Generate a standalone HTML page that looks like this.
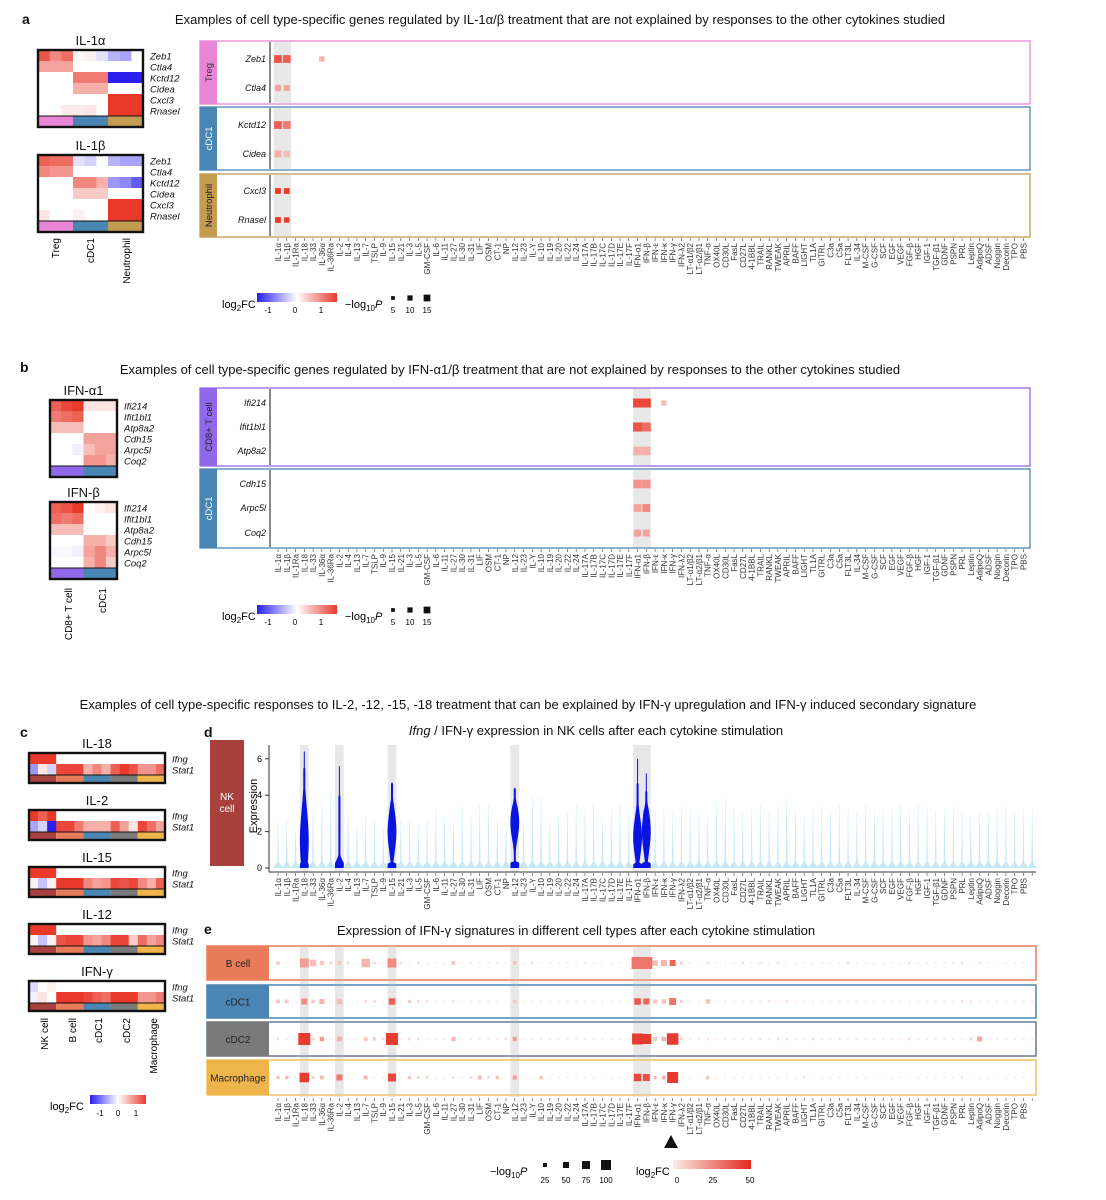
<!DOCTYPE html>
<html><head><meta charset="utf-8">
<style>
body{margin:0;background:#fff;}
svg{display:block;font-family:"Liberation Sans",Arial,sans-serif;}
</style></head>
<body>
<svg id="fig" width="1106" height="1200" viewBox="0 0 1106 1200" xmlns="http://www.w3.org/2000/svg">
<defs>
<linearGradient id="gdiv" x1="0" x2="1" y1="0" y2="0">
<stop offset="0" stop-color="#2a1ff0"/><stop offset="0.5" stop-color="#ffffff"/><stop offset="1" stop-color="#e8392b"/>
</linearGradient>
<linearGradient id="gred" x1="0" x2="1" y1="0" y2="0">
<stop offset="0" stop-color="#fbece7"/><stop offset="1" stop-color="#e4281c"/>
</linearGradient>
</defs>
<g font-size="13" fill="#111">
<text x="22" y="24" font-weight="bold" font-size="14">a</text>
<text x="560" y="24" text-anchor="middle">Examples of cell type-specific genes regulated by IL-1α/β treatment that are not explained by responses to the other cytokines studied</text>
<text x="20" y="372" font-weight="bold" font-size="14">b</text>
<text x="510" y="374" text-anchor="middle">Examples of cell type-specific genes regulated by IFN-α1/β treatment that are not explained by responses to the other cytokines studied</text>
<text x="528" y="709" text-anchor="middle">Examples of cell type-specific responses to IL-2, -12, -15, -18 treatment that can be explained by IFN-γ upregulation and IFN-γ induced secondary signature</text>
<text x="20" y="737" font-weight="bold" font-size="14">c</text>
<text x="204" y="737" font-weight="bold" font-size="14">d</text>
<text x="596" y="735" text-anchor="middle"><tspan font-style="italic">Ifng</tspan> / IFN-γ expression in NK cells after each cytokine stimulation</text>
<text x="204" y="934" font-weight="bold" font-size="14">e</text>
<text x="576" y="935" text-anchor="middle">Expression of IFN-γ signatures in different cell types after each cytokine stimulation</text>
</g>
<g id="root"></g>
</svg>
<script>
// ---------- data ----------
const cytokines = ["IL-1α","IL-1β","IL-1Ra","IL-18","IL-33","IL-36α","IL-36Ra","IL-2","IL-4","IL-13","IL-7","TSLP","IL-9","IL-15","IL-21","IL-3","IL-5","GM-CSF","IL-6","IL-11","IL-27","IL-30","IL-31","LIF","OSM","CT-1","NP","IL-12","IL-23","IL-Y","IL-10","IL-19","IL-20","IL-22","IL-24","IL-17A","IL-17B","IL-17C","IL-17D","IL-17E","IL-17F","IFN-α1","IFN-β","IFN-ε","IFN-κ","IFN-γ","IFN-λ2","LT-α1/β2","LT-α2/β1","TNF-α","OX40L","CD30L","FasL","CD27L","4-1BBL","TRAIL","RANKL","TWEAK","APRIL","BAFF","LIGHT","TL1A","GITRL","C3a","C5a","FLT3L","IL-34","M-CSF","G-CSF","SCF","EGF","VEGF","FGF-β","HGF","IGF-1","TGF-β1","GDNF","PSPN","PRL","Leptin","AdipoQ","ADSF","Noggin","Decorin","TPO","PBS"];

const aGenes = ["Zeb1","Ctla4","Kctd12","Cidea","Cxcl3","Rnasel"];
const aDotGene = [0,0,0,1,1,2,2,3,3,4,4,5,5];
const aDotCol  = [0,1,5,0,1,0,1,0,1,0,1,0,1];
const aDotFC   = [1.3,1.2,0.6,0.7,0.7,1.2,1.0,0.6,0.5,1.5,1.5,1.5,1.5];
const aDotP    = [12,12,6,8,7,12,12,10,9,7,7,7,6];
const bGenes = ["Ifi214","Ifit1bl1","Atp8a2","Cdh15","Arpc5l","Coq2"];
const bDotGene = [0,0,0,1,1,2,2,3,3,4,4,5,5];
const bDotCol  = [41,42,44,41,42,41,42,41,42,41,42,41,42];
const bDotFC   = [1.4,1.4,0.5,1.3,1.1,0.6,0.6,0.8,0.8,0.7,0.9,0.7,0.7];
const bDotP    = [15,15,6,15,15,14,14,14,14,12,12,10,10];

const hmIL1a = [
 [1.3,0.9,1.1,0.05,0.1,-0.2,-0.5,-0.6,0],
 [0.7,0.7,0.7,0,0,0,0,0,0],
 [0,0,0,1.0,1.0,1.0,-1.5,-1.5,-1.5],
 [0,0,0,0.6,0.6,0.6,0,0,0],
 [0,0,0,0,0,0,1.5,1.5,1.5],
 [0,0,0.15,0.15,0.2,0,1.5,1.5,1.5]];
const hmIL1b = [
 [1.2,1.1,1.1,-0.2,-0.3,0,-0.5,-0.6,-0.6],
 [0.9,0.8,0.8,0,0,0,0,0,0],
 [0,0,0,0.9,0.9,0.6,-0.7,-0.8,-1.1],
 [0,0,0,0.4,0.4,0.4,0,0,0],
 [0,0,0,0,0,0,1.5,1.5,1.5],
 [0.2,0,0,0.1,0,0,1.5,1.5,1.5]];
const hmIFNa = [
 [1.2,1.4,1.5,0.2,0.2,0.2],
 [1.0,1.1,1.2,0,0,0],
 [0.5,0.5,0.5,0,0,0],
 [0,0,0,0.7,0.7,0.7],
 [0,0,-0.1,0.5,0.7,0.7],
 [0,0,0,0.8,0.8,0.6]];
const hmIFNb = [
 [1.2,1.3,1.5,0,0.1,0.2],
 [1.1,1.0,1.1,0,0,0],
 [0.5,0.5,0.5,0,0,0],
 [0,0,0,0.6,0.6,0.4],
 [-0.05,-0.05,-0.1,0.7,0.9,0.6],
 [0,0,0,0.6,0.9,0.4]];
const cTitles = ["IL-18","IL-2","IL-15","IL-12","IFN-γ"];
const cIfng = [
 [1.5,1.5,1.5,0,0,0,0,0,0,0,0,0,0,0,0],
 [1.5,1.2,1.5,0,0,0,0,0,0,0,0,0,0,0,0],
 [1.5,1.5,1.5,0,0,0,0,0,0,0,0,0,0,0,0],
 [1.5,1.5,1.5,0,0,0,0,0,0,0,0,0,0,0,0],
 [-0.25,0,0.1,0,0,0,0,0,0,0,0,0,0,0,0]];
const cStat1 = [
 [-0.7,0.2,-0.3,1.4,1.4,1.4,0.6,0.9,0.6,1.2,1.5,1.3,0.8,0.8,1.1],
 [-0.6,-0.3,-1.5,1.4,1.4,1.0,0.6,0.6,0.6,1.2,0.7,0.2,1.4,1.1,0.7],
 [0.1,-0.4,0.1,1.5,1.5,1.5,0.9,0.7,0.8,1.4,1.3,1.4,0.9,0.6,1.2],
 [0.1,-0.4,0.1,1.3,1.4,1.4,0.8,0.7,0.9,1.4,1.4,0.4,1.1,0.7,0.9],
 [-0.1,0.2,0,1.5,1.5,1.5,1.4,1.2,1.1,1.5,1.5,1.5,0.8,0.8,1.0]];

const dMax = [2.5,2.7,2.1,6.4,3.3,3.8,4.2,5.6,3.0,2.3,
 2.9,2.6,2.3,4.7,2.6,2.7,2.4,2.6,3.3,2.9,
 2.6,3.4,2.9,3.5,3.5,2.7,2.4,4.4,2.6,3.9,
 3.9,2.6,2.9,3.0,3.5,3.2,3.6,2.8,3.3,3.5,
 3.1,6.0,5.2,3.1,3.3,3.0,3.4,3.2,3.1,2.8,
 3.7,3.9,3.3,3.0,3.3,3.5,3.1,3.4,3.8,3.2,
 2.9,3.3,3.4,3.2,3.5,3.2,3.0,3.5,3.1,3.2,
 3.3,3.6,3.2,3.5,3.4,3.1,3.3,3.4,3.2,2.9,
 3.0,3.1,3.2,3.4,3.1,3.3,3.2];
const dHighlight = [3,7,13,27,41,42];
const dMode = [1.5,0.15,2.0,2.5,1.7,2.0];
const dSpread = [2.4,0.45,1.6,1.3,1.5,1.6];
const dTop = [5.5,4.0,4.7,4.4,4.7,4.2];

const eRows = ["B cell","cDC1","cDC2","Macrophage"];
const eBCols=[0,3,4,5,6,7,8,10,11,13,14,16,20,27,29,41,42,43,44,45,46,49,53,55,57,65,72,78,80];
const eBFC  =[8,20,12,10,5,10,4,14,5,25,4,3,10,10,3,30,30,12,14,35,8,4,3,3,3,3,3,3,3];
const eBP   =[15,70,45,22,10,20,8,65,8,70,6,5,18,18,5,100,100,35,40,40,10,5,4,4,4,4,4,4,4];
const eC1Cols=[0,1,3,4,5,7,10,11,13,15,16,17,20,27,41,42,43,44,45,46,49,56,58,78,79];
const eC1FC  =[10,8,25,10,14,12,5,5,35,8,5,4,3,10,38,35,10,10,30,8,10,3,4,3,3];
const eC1P   =[18,18,40,14,30,35,6,6,45,12,6,5,4,15,45,40,22,25,50,10,25,4,6,4,4];
const eC2Cols=[0,3,4,5,7,10,11,12,13,15,16,20,26,27,41,42,43,44,45,46,49,55,57,58,61,64,72,79,80];
const eC2FC  =[3,45,8,20,15,10,8,4,45,5,4,14,4,20,45,45,10,15,45,8,3,3,3,3,3,3,3,6,18];
const eC2P   =[4,100,8,25,30,18,12,5,100,6,5,22,6,22,90,80,20,25,95,10,4,4,4,4,4,4,4,8,30];
const eMCols=[0,1,3,4,5,7,10,13,15,16,17,20,22,23,24,25,27,30,41,42,43,44,45,49,60,78];
const eMFC  =[10,12,45,6,12,30,15,42,10,5,5,4,4,12,5,10,20,10,42,40,15,15,45,10,3,3];
const eMP   =[15,15,75,10,18,40,18,60,15,8,8,6,6,20,6,15,22,15,55,50,10,18,90,15,4,4];

// ---------- helpers ----------
const NS = "http://www.w3.org/2000/svg";
const root = document.getElementById("root");
function el(tag, attrs, parent){
  const e = document.createElementNS(NS, tag);
  for (const k in attrs) e.setAttribute(k, attrs[k]);
  (parent||root).appendChild(e);
  return e;
}
function txt(x,y,s,attrs,parent){
  const e = el("text", Object.assign({x:x,y:y}, attrs||{}), parent);
  e.textContent = s;
  return e;
}
function lerp(a,b,t){return Math.round(a+(b-a)*t);}
function divColor(v){
  let t = Math.max(-1, Math.min(1, v/1.5));
  if (t>=0) return `rgb(${lerp(255,232,t)},${lerp(255,57,t)},${lerp(255,43,t)})`;
  t=-t; return `rgb(${lerp(255,42,t)},${lerp(255,31,t)},${lerp(255,240,t)})`;
}
function redColor(v){
  const t = Math.max(0, Math.min(1, v/50));
  return `rgb(${lerp(251,228,t)},${lerp(236,40,t)},${lerp(231,28,t)})`;
}
const X0 = 278, DX = 8.77;
function xCol(i){ return X0 + i*DX; }
function xLabels(yTop, n, group){
  for (let i=0;i<n;i++){
    const x = xCol(i);
    el("line",{x1:x,x2:x,y1:yTop-3,y2:yTop,stroke:"#444","stroke-width":0.6},group);
    const t = txt(x+3, yTop+2, cytokines[i], {"font-size":8, fill:"#333","text-anchor":"end", transform:`rotate(-90 ${x+3} ${yTop+2})`}, group);
    
    
  }
}
function heatmap(x,y,w,h,rows,ncolsPerGroup,groupColors,genes,title,name,rowH){
  const g = el("g",{});
  
  
  const nc = rows[0].length, cw = w/nc;
  rows.forEach((r,ri)=>{ r.forEach((v,ci)=>{
    const c = el("rect",{x:x+ci*cw,y:y+ri*rowH,width:cw+0.3,height:rowH+0.3,fill:divColor(v)},g);
    
    
  });});
  const barY = y+rows.length*rowH;
  groupColors.forEach((col,gi)=>{
    const b = el("rect",{x:x+gi*ncolsPerGroup*cw,y:barY,width:ncolsPerGroup*cw,height:h-rows.length*rowH,fill:col},g);
    
    
  });
  el("line",{x1:x,x2:x+w,y1:barY,y2:barY,stroke:"#111","stroke-width":1},g);
  el("rect",{x:x,y:y,width:w,height:h,fill:"none",stroke:"#111","stroke-width":2.4},g);
  const tt = txt(x+w/2, y-5, title, {"font-size":13,"text-anchor":"middle",fill:"#111"}, g);
  
  
  genes.forEach((gn,gi)=>{
    const t = txt(x+w+7, y+gi*rowH+rowH-1.5, gn, {"font-size":9.5,"font-style":"italic",fill:"#111"}, g);
    
    
  });
}
function facet(y1,y2,label,color,textColor,name,g){
  const f = el("g",{},g);
  
  
  el("rect",{x:200,y:y1,width:830,height:y2-y1,fill:"#fff",stroke:color,"stroke-width":1.3},f);
  el("rect",{x:200,y:y1,width:17,height:y2-y1,fill:color},f);
  const cy=(y1+y2)/2;
  const t = txt(212, cy, label, {"font-size":9.5,"text-anchor":"middle",fill:textColor,transform:`rotate(-90 212 ${cy})`}, f);
  
  
  el("line",{x1:270,x2:270,y1:y1+1,y2:y2-1,stroke:"#111","stroke-width":1},f);
  return f;
}
function band(cols,y1,y2,g){
  const b = el("rect",{x:xCol(cols[0])-4.4,y:y1,width:(cols[cols.length-1]-cols[0]+1)*DX,height:y2-y1,fill:"#e8e8e8"},g);
  
  
}
function pSize(p){ return 3 + p*0.4; }
function dotPanel(genes,rowYs,gIdx,cols,fcs,ps,g){
  genes.forEach((gn,i)=>{
    const t = txt(266, rowYs[i]+3, gn, {"font-size":9,"font-style":"italic","text-anchor":"end",fill:"#111"}, g);
    
    
  });
  cols.forEach((c,i)=>{
    const s = pSize(ps[i]), x = xCol(c), y = rowYs[gIdx[i]];
    const r = el("rect",{x:x-s/2,y:y-s/2,width:s,height:s,fill:divColor(fcs[i])},g);
    
    
  });
}
function divLegend(x,y,g,pvals){
  txt(x,y+9,"log",{"font-size":11},g).innerHTML='log<tspan font-size="8" dy="3">2</tspan><tspan dy="-3">FC</tspan>';
  el("rect",{x:x+35,y:y-6,width:80,height:9,fill:"url(#gdiv)"},g);
  [["-1",x+46],["0",x+73],["1",x+99]].forEach(a=>txt(a[1],y+14,a[0],{"font-size":8,"text-anchor":"middle"},g));
  if(pvals){
    const t = txt(x+123,y+9,"",{"font-size":11},g);
    t.innerHTML='−log<tspan font-size="8" dy="3">10</tspan><tspan dy="-3" font-style="italic">P</tspan>';
    [[5,x+171],[10,x+188],[15,x+205]].forEach(a=>{
      const s = pSize(a[0])*0.75;
      el("rect",{x:a[1]-s/2,y:y-s/2-1,width:s,height:s,fill:"#111"},g);
      txt(a[1],y+14,String(a[0]),{"font-size":8,"text-anchor":"middle"},g);
    });
  }
}

// ---------- panel a ----------
const gA = el("g",{});


const ctA = ["#e985d6","#4a86b4","#c39c52"];
heatmap(38,50,105,77,hmIL1a,3,ctA,aGenes,"IL-1α","heatmap-il1a",11);
heatmap(38,155,105,77,hmIL1b,3,ctA,aGenes,"IL-1β","heatmap-il1b",11);
[["Treg",55],["cDC1",90],["Neutrophil",126]].forEach(a=>{
  const t = txt(a[1]+4,238,a[0],{"font-size":10,"text-anchor":"end",transform:`rotate(-90 ${a[1]+4} 238)`},gA);
  
  
});
const aF1 = facet(41,104,"Treg","#e985d6","#333","facet-treg",gA);
const aF2 = facet(107,170,"cDC1","#4a86b4","#fff","facet-cdc1",gA);
const aF3 = facet(174,237,"Neutrophil","#c39c52","#222","facet-neutrophil",gA);
[[aF1,41,104],[aF2,107,170],[aF3,174,237]].forEach(a=>band([0,1],a[1]+1,a[2]-1,a[0]));
dotPanel(aGenes,[59,88,125,154,191,220],aDotGene,aDotCol,aDotFC,aDotP,gA);
xLabels(241,86,gA);
const legA = el("g",{},gA);


divLegend(222,299,legA,true);

// ---------- panel b ----------
const gB = el("g",{});


const ctB = ["#9168ea","#4a86b4"];
heatmap(50,400,67,77,hmIFNa,3,ctB,bGenes,"IFN-α1","heatmap-ifna1",11);
heatmap(50,502,67,77,hmIFNb,3,ctB,bGenes,"IFN-β","heatmap-ifnb",11);
[["CD8+ T cell",68],["cDC1",102]].forEach(a=>{
  const t = txt(a[1]+4,588,a[0],{"font-size":10,"text-anchor":"end",transform:`rotate(-90 ${a[1]+4} 588)`},gB);
  
  
});
const bF1 = facet(388,466,"CD8+ T cell","#9168ea","#222","facet-cd8",gB);
const bF2 = facet(469,548,"cDC1","#4a86b4","#fff","facet-cdc1-b",gB);
band([41,42],389,465,bF1); band([41,42],470,547,bF2);
dotPanel(bGenes,[403,427,451,484,508,533],bDotGene,bDotCol,bDotFC,bDotP,gB);
xLabels(552,86,gB);
const legB = el("g",{},gB);


divLegend(222,611,legB,true);

// ---------- panel c ----------
const gC = el("g",{});


const ctC = ["#a8413e","#e87b5a","#4a86b4","#7a7a7a","#f0b54a"];
cTitles.forEach((t,i)=>{
  heatmap(29,753+i*57,136,30,[cIfng[i],cStat1[i]],3,ctC,["Ifng","Stat1"],t,"heatmap-c-"+t,11);
});
[["NK cell",44],["B cell",72],["cDC1",98],["cDC2",126],["Macrophage",153]].forEach(a=>{
  const t = txt(a[1]+4,1018,a[0],{"font-size":10,"text-anchor":"end",transform:`rotate(-90 ${a[1]+4} 1018)`},gC);
  
  
});
{
  const lg = el("g",{},gC);
  
  
  txt(50,1110,"",{"font-size":11},lg).innerHTML='log<tspan font-size="8" dy="3">2</tspan><tspan dy="-3">FC</tspan>';
  el("rect",{x:90,y:1095,width:56,height:9,fill:"url(#gdiv)"},lg);
  [["-1",100],["0",118],["1",136]].forEach(a=>txt(a[1],1116,a[0],{"font-size":8,"text-anchor":"middle"},lg));
}

// ---------- panel d ----------
const gD = el("g",{});


const dY0 = 868, dK = 18.2;
function yD(v){ return dY0 - v*dK; }
{
  const nk = el("rect",{x:210,y:740,width:34,height:126,fill:"#a8413e"},gD);
  
  
  txt(227,800,"NK",{"font-size":10,"text-anchor":"middle",fill:"#fff"},gD);
  txt(227,812,"cell",{"font-size":10,"text-anchor":"middle",fill:"#fff"},gD);
  dHighlight.forEach(c=>band([c],745,dY0+4,gD));
  el("line",{x1:269,x2:269,y1:745,y2:dY0+4,stroke:"#333","stroke-width":1},gD);
  [0,2,4,6].forEach(v=>{
    el("line",{x1:265,x2:269,y1:yD(v),y2:yD(v),stroke:"#333"},gD);
    const t = txt(262,yD(v)+3,String(v),{"font-size":9,"text-anchor":"end"},gD);
    
    
  });
  const yt = txt(257,806,"Expression",{"font-size":11,"text-anchor":"middle",transform:"rotate(-90 257 806)"},gD);
  
  
  dMax.forEach((m,i)=>{
    const x = xCol(i);
    const hi = dHighlight.indexOf(i);
    let pts = [];
    if (hi<0){
      const prof = v => v<0.35 ? 4.3*(1-v/0.35)+0.6 : 0.6*Math.max(0,(m-v)/(m-0.35))+0.15;
      for(let k=0;k<=30;k++){const v=m*k/30;pts.push([x+prof(v),yD(v)]);}
      for(let k=30;k>=0;k--){const v=m*k/30;pts.push([x-prof(v),yD(v)]);}
      const p = el("polygon",{points:pts.map(q=>q.map(n=>n.toFixed(1)).join(",")).join(" "),fill:"#c4e8f8"},gD);
      
      
    } else {
      const mo=dMode[hi], sd=dSpread[hi], top=dTop[hi];
      const prof = v => {
        let w = 4.4*Math.exp(-Math.pow((v-mo)/sd,2));
        if (v<0.3) w = Math.max(w, 4.4);
        if (v>top) w = 0.5;
        else if (v > top*0.75) w = Math.min(w, 0.5 + (w-0.5)*(top-v)/(top*0.25));
        return Math.max(w, v<top ? 1.0 : 0.4);
      };
      for(let k=0;k<=60;k++){const v=m*k/60;pts.push([x+prof(v),yD(v)]);}
      for(let k=60;k>=0;k--){const v=m*k/60;pts.push([x-prof(v),yD(v)]);}
      const p = el("polygon",{points:pts.map(q=>q.map(n=>n.toFixed(1)).join(",")).join(" "),fill:"#0a14e0"},gD);
      
      
    }
  });
  el("line",{x1:269,x2:1036,y1:dY0+4,y2:dY0+4,stroke:"#333","stroke-width":1},gD);
  xLabels(dY0+8,87,gD);
}

// ---------- panel e ----------
const gE = el("g",{});


{
  const rowBoxes = [[946,980,"#e87b5a","#e87b5a"],[985,1018,"#4a86b4","#4a86b4"],[1022,1056,"#7a7a7a","#6b7a8c"],[1060,1095,"#f0b54a","#f0c06a"]];
  const data = [[eBCols,eBFC,eBP],[eC1Cols,eC1FC,eC1P],[eC2Cols,eC2FC,eC2P],[eMCols,eMFC,eMP]];
  rowBoxes.forEach((b,ri)=>{
    const f = el("g",{},gE);
    
    
    el("rect",{x:207,y:b[0],width:829,height:b[1]-b[0],fill:"#fff",stroke:b[3],"stroke-width":1.3},f);
  });
  dHighlight.forEach(c=>band([c],946,1097,gE));
  rowBoxes.forEach((b,ri)=>{
    el("rect",{x:207,y:b[0],width:829,height:b[1]-b[0],fill:"none",stroke:b[3],"stroke-width":1.3},gE);
    const s = el("rect",{x:207,y:b[0],width:62,height:b[1]-b[0],fill:b[2]},gE);
    
    
    const t = txt(238,(b[0]+b[1])/2+4,eRows[ri],{"font-size":10,"text-anchor":"middle",fill:"#222"},gE);
    
    
    const cy = (b[0]+b[1])/2;
    for(let c=0;c<87;c++){
      if (data[ri][0].indexOf(c)>=0) continue;
      const d = el("rect",{x:xCol(c)-1,y:cy-1,width:2,height:2,fill:"#fbeeea"},gE);
      
      
    }
    const [cols,fcs,ps] = data[ri];
    cols.forEach((c,i)=>{
      const sz = 2 + ps[i]*0.1;
      const r = el("rect",{x:xCol(c)-sz/2,y:cy-sz/2,width:sz,height:sz,fill:redColor(fcs[i])},gE);
      
      
    });
  });
  xLabels(1101,87,gE);
  const ar = el("polygon",{points:"664,1148 678,1148 671,1135",fill:"#111"},gE);
  
  
  const lg = el("g",{},gE);
  
  
  txt(490,1175,"",{"font-size":11},lg).innerHTML='−log<tspan font-size="8" dy="3">10</tspan><tspan dy="-3" font-style="italic">P</tspan>';
  [[25,545],[50,566],[75,586],[100,606]].forEach(a=>{
    const s = 2 + a[0]*0.08;
    el("rect",{x:a[1]-s/2,y:1165-s/2,width:s,height:s,fill:"#111"},lg);
    txt(a[1],1183,String(a[0]),{"font-size":8,"text-anchor":"middle"},lg);
  });
  txt(636,1175,"",{"font-size":11},lg).innerHTML='log<tspan font-size="8" dy="3">2</tspan><tspan dy="-3">FC</tspan>';
  el("rect",{x:673,y:1160,width:78,height:9,fill:"url(#gred)"},lg);
  [["0",677],["25",713],["50",750]].forEach(a=>txt(a[1],1183,a[0],{"font-size":8,"text-anchor":"middle"},lg));
}
</script>
</body></html>
